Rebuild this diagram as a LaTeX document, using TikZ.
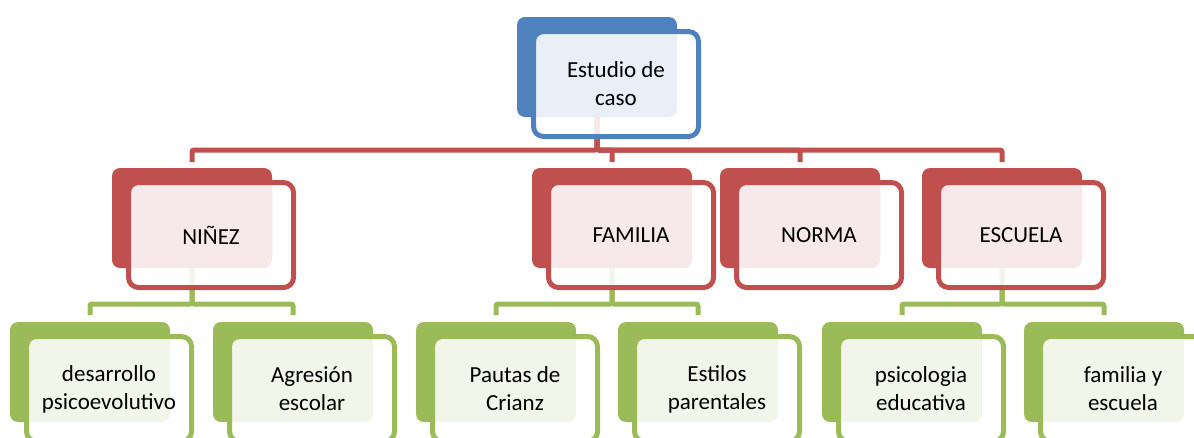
\documentclass[tikz,border=0pt]{standalone}
\usepackage{fontspec}
\setmainfont{Carlito}
\definecolor{cblue}{HTML}{4F81BD}
\definecolor{cred}{HTML}{C0504D}
\definecolor{cgreen}{HTML}{9BBB59}
\begin{document}
\begin{tikzpicture}[x=1pt,y=-1pt,
  back/.style={fill=#1, draw=none, rounded corners=8pt, minimum width=160pt, minimum height=100pt, inner sep=0pt, outer sep=0pt},
  front/.style={draw=#1, line width=5pt, fill=white, fill opacity=0.88, text opacity=1, rounded corners=10pt, minimum width=165pt, minimum height=105pt, inner sep=0pt, align=center, font=\fontsize{23}{28}\selectfont},
  conn/.style={draw=#1, line width=5pt, rounded corners=2pt},
]
\useasboundingbox (0,0) rectangle (1194,437);
\clip (0,0) rectangle (1194,437);
% back boxes
\node[back=cblue] (topb) at (597,67) {};
\node[back=cred] (ninb) at (192,218) {};
\node[back=cred] (famb) at (612,218) {};
\node[back=cred] (norb) at (800,218) {};
\node[back=cred] (escb) at (1002,218) {};
\node[back=cgreen] (desb) at (90,372) {};
\node[back=cgreen] (agrb) at (293,372) {};
\node[back=cgreen] (paub) at (496,372) {};
\node[back=cgreen] (estb) at (698,372) {};
\node[back=cgreen] (psib) at (902,372) {};
\node[back=cgreen] (fyeb) at (1104,372) {};
% connectors
\coordinate (rbus) at (0,150);
\coordinate (gbus) at (0,304);
\foreach \c in {ninb,famb,norb,escb}
  \draw[conn=cred] (topb.south) |- (rbus -| \c.north) -- ([yshift=6pt]\c.north);
\foreach \p/\c in {ninb/desb, ninb/agrb, famb/paub, famb/estb, escb/psib, escb/fyeb}
  \draw[conn=cgreen] (\p.south) |- (gbus -| \c.north) -- ([yshift=7pt]\c.north);
% front boxes
\node[front=cblue] (topf) at (616,84) {Estudio de\\caso};
\node[front=cred] (ninf) at (211,235) {NIÑEZ};
\node[front=cred] (famf) at (631,235) {FAMILIA};
\node[front=cred] (norf) at (819,235) {NORMA};
\node[front=cred] (escf) at (1021,235) {ESCUELA};
\node[front=cgreen] (desf) at (109,389) {desarrollo\\psicoevolutivo};
\node[front=cgreen] (agrf) at (312,389) {Agresión\\escolar};
\node[front=cgreen] (pauf) at (515,389) {Pautas de\\Crianz};
\node[front=cgreen] (estf) at (717,389) {Estilos\\parentales};
\node[front=cgreen] (psif) at (921,389) {psicologia\\educativa};
\node[front=cgreen] (fyef) at (1123,389) {familia y\\escuela};
\end{tikzpicture}
\end{document}
